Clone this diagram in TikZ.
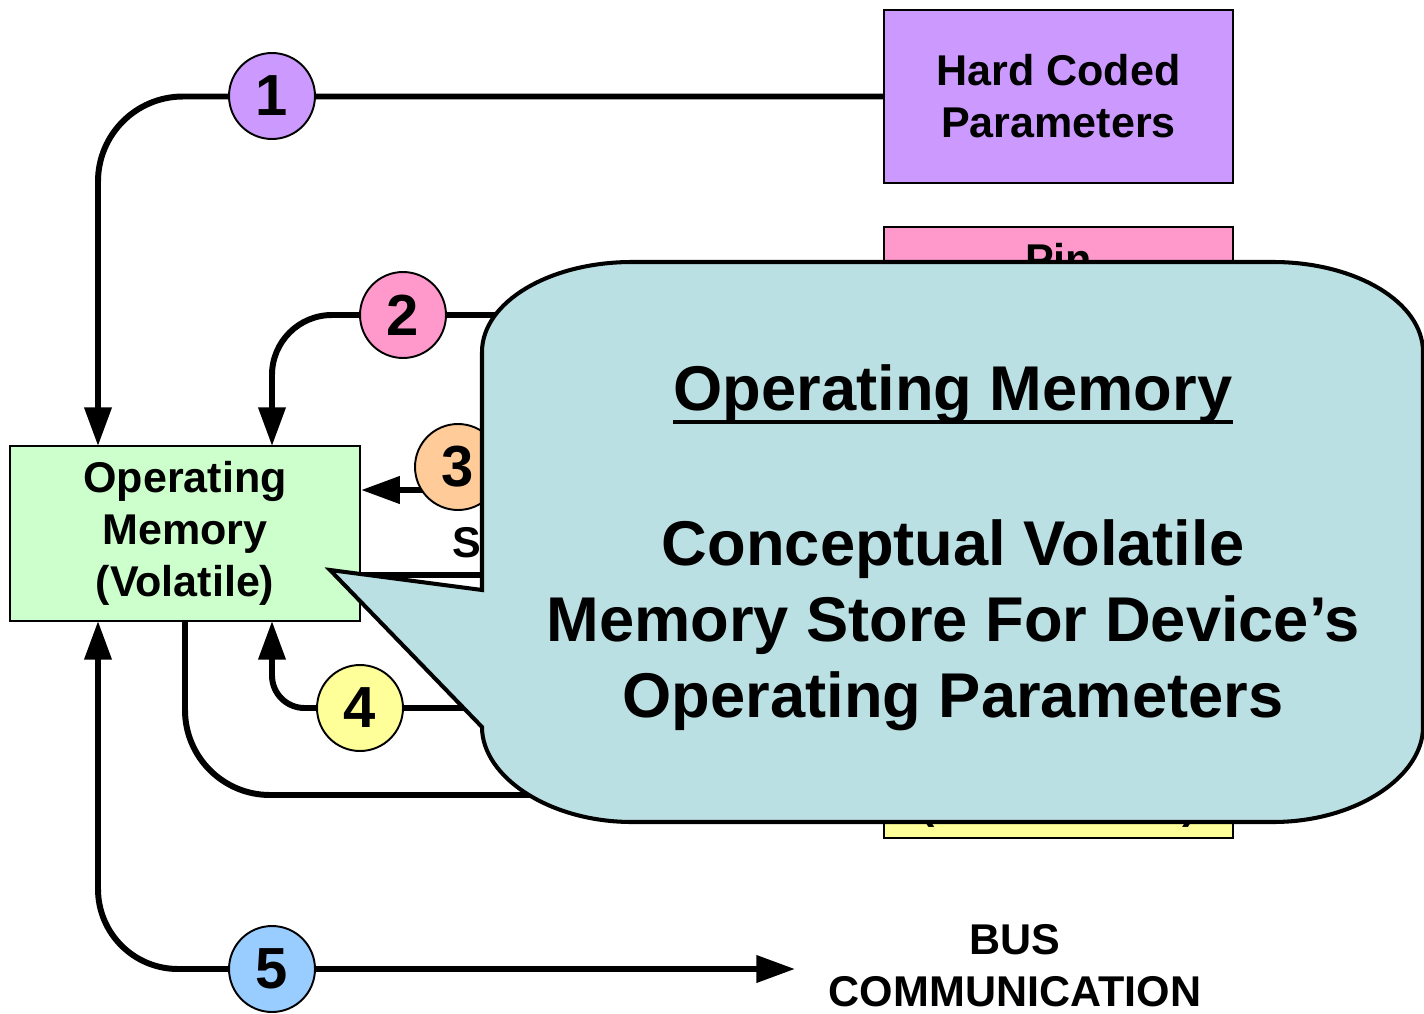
\documentclass[tikz,border=0pt]{standalone}
\usepackage{fontspec}
\setmainfont{Liberation Sans}
\usetikzlibrary{arrows.meta,calc}
\definecolor{cpurple}{HTML}{CC99FF}
\definecolor{cpink}{HTML}{FF99CC}
\definecolor{cgreen}{HTML}{CCFFCC}
\definecolor{cyellow}{HTML}{FFFF99}
\definecolor{corange}{HTML}{FFCC99}
\definecolor{cblue}{HTML}{99CCFF}
\definecolor{ccallout}{RGB}{187,224,227}
\tikzset{
  box/.style={draw=black, line width=1.3pt, minimum width=6.98cm, inner sep=0pt, align=center,
    font=\fontsize{24.5}{29.5}\selectfont\bfseries},
  num/.style={circle, draw=black, line width=1.1pt, minimum size=1.72cm, inner sep=0pt,
    font=\fontsize{33}{36}\selectfont\bfseries},
  conn/.style={line width=3.4pt},
  arr/.style={-{Triangle[length=22pt,width=15pt]}},
  lbl/.style={font=\fontsize{24.5}{29.5}\selectfont\bfseries, align=center, inner sep=0pt},
  big/.style={font=\fontsize{36}{43}\selectfont\bfseries, inner sep=0pt, anchor=base},
}
\begin{document}
\begin{tikzpicture}[x=0.02cm, y=-0.02cm]
\useasboundingbox (0,0) rectangle (1424,1014);

% boxes
\node[box, fill=cpurple, minimum height=3.46cm] (hc) at (1058.5,96.5) {Hard Coded\\Parameters};
\node[box, fill=cpink, minimum height=3.52cm] (pk) at (1058.5,315) {};
\node[lbl, anchor=base] (pktxt) at (1058.5,274) {Pin};
\node[box, fill=cyellow, minimum height=3.5cm] (yl) at (1058.5,750.5) {};
\node[lbl, anchor=base] (yltxt) at (1058.5,818) {(Non-Volatile)};
\node[box, fill=cgreen, minimum width=7.0cm, minimum height=3.5cm] (om) at (185,533.5) {Operating\\Memory\\(Volatile)};

% hidden / free ends
\coordinate (om1) at (98,446);
\coordinate (om2) at (272,446);
\coordinate (s3) at (900,490);
\coordinate (t6) at (900,575);
\coordinate (om7) at (185,621);
\coordinate (t7) at (900,795);
\coordinate (s4) at (900,708);
\coordinate (om4) at (272,621);
\coordinate (om5) at (98,621);
\coordinate (bus5) at (795,969);

% connectors
\draw[conn, arr, rounded corners=1.7cm] (hc.west) -| (om1);
\draw[conn, arr, rounded corners=1.2cm] (pk.west) -| (om2);
\draw[conn, arr] (s3) -- (s3 -| om.east);
\draw[conn] (t6 -| om.east) -- (t6);
\draw[conn, rounded corners=1.7cm] (om7) |- (t7);
\draw[conn, arr, rounded corners=0.65cm] (s4) -| (om4);
\draw[conn, {Triangle[length=22pt,width=15pt]}-{Triangle[length=22pt,width=15pt]}, rounded corners=1.6cm] (om5) |- (bus5);

% label S
\node[lbl, anchor=base west] (stxt) at (452,557) {S};

% circles
\node[num, fill=cpurple] (c1) at (272,96) {1};
\node[num, fill=cpink] (c2) at (403,315) {2};
\node[num, fill=corange] (c3) at (458,467) {3};
\node[num, fill=cyellow] (c4) at (360,708) {4};
\node[num, fill=cblue] (c5) at (272,969) {5};

% bus text
\node[lbl] (bus) at (1015,966) {BUS\\COMMUNICATION};

% callout
\draw[line width=2.3pt, fill=ccallout, line join=miter]
  (482,590) -- (330,570) -- (482,727)
  .. controls (482,776.7) and (549.2,822) .. (632,822)
  -- (1273,822)
  .. controls (1355.8,822) and (1423,776.7) .. (1423,727)
  -- (1423,352)
  .. controls (1423,302.3) and (1355.8,262) .. (1273,262)
  -- (632,262)
  .. controls (549.2,262) and (482,302.3) .. (482,352)
  -- cycle;

\node[big] (t1) at (953,410) {Operating Memory};
\draw[line width=2.2pt] ($(t1.base west)+(0,12)$) -- ($(t1.base east)+(0,12)$);
\node[big] (t2) at (953,565) {Conceptual Volatile};
\node[big] (t3) at (953,641) {Memory Store For Device’s};
\node[big] (t4) at (953,717) {Operating Parameters};
\end{tikzpicture}
\end{document}
